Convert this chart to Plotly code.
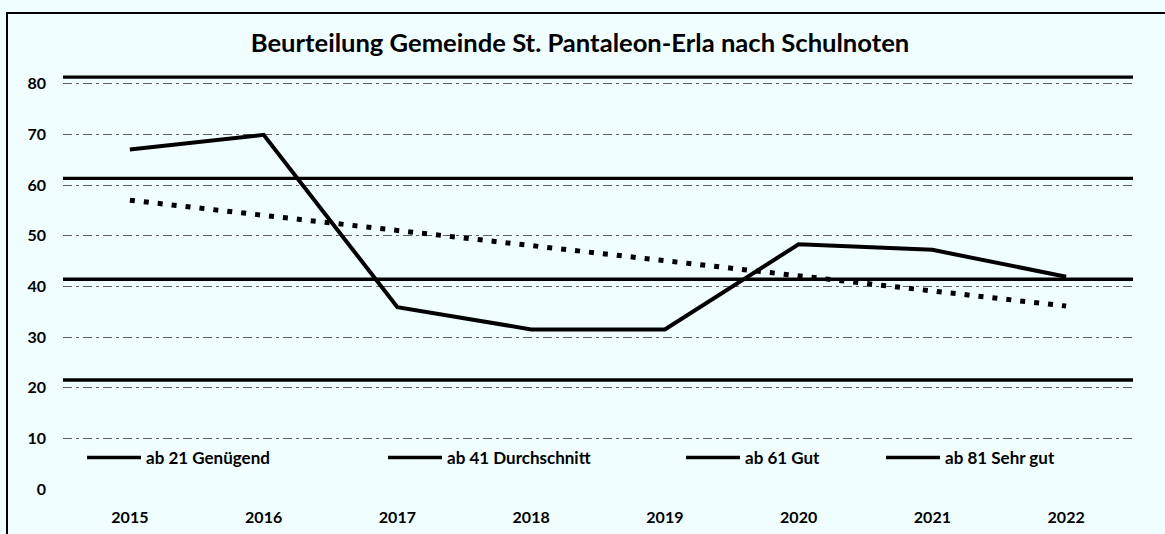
import plotly.graph_objects as go

# ---- data ----
years = [2015, 2016, 2017, 2018, 2019, 2020, 2021, 2022]
year_labels = ["2015", "2016", "2017", "2018", "2019", "2020", "2021", "2022"]
scores = [67.0, 69.9, 35.9, 31.5, 31.5, 48.3, 47.2, 41.9]
trend_years = [2015, 2022]
trend_values = [57.0, 36.1]
threshold_names = ["ab 21 Genügend", "ab 41 Durchschnitt", "ab 61 Gut", "ab 81 Sehr gut"]
threshold_values = [21.5, 41.4, 61.3, 81.3]
y_ticks = [0, 10, 20, 30, 40, 50, 60, 70, 80]

TITLE = "Beurteilung Gemeinde St. Pantaleon-Erla nach Schulnoten"

W, H = 1165, 534
ML, MR, MT, MB = 63, 32, 71, 45
PW, PH = W - ML - MR, H - MT - MB
BG = "#f0feff"
FONT = "Lato"

x_range = [years[0] - 0.5, years[-1] + 0.5]


def px_x(p):
    return (p - ML) / PW


def px_y(p):
    return (H - MB - p) / PH


fig = go.Figure()

legend_ids = ["legend", "legend2", "legend3", "legend4"]
for name, val, lid in zip(threshold_names, threshold_values, legend_ids):
    fig.add_trace(go.Scatter(
        x=x_range, y=[val, val], mode="lines", name=name,
        line=dict(color="#000000", width=3.4),
        legend=lid, hoverinfo="skip",
    ))

fig.add_trace(go.Scatter(
    x=trend_years, y=trend_values, mode="lines", showlegend=False,
    line=dict(color="#000000", width=5, dash="5px,9px"),
))
fig.add_trace(go.Scatter(
    x=years, y=scores, mode="lines", showlegend=False,
    line=dict(color="#000000", width=4),
))

legend_px = [87, 388, 686, 886]
legend_y = px_y(458)
leg_common = dict(
    orientation="h", xanchor="left", yanchor="middle", y=legend_y,
    bgcolor="rgba(0,0,0,0)", borderwidth=0, itemwidth=54,
    font=dict(family=FONT, size=17, color="#000000", weight="bold"),
)
legends = {}
for lid, p in zip(legend_ids, legend_px):
    legends[lid] = dict(x=px_x(p - 5), **leg_common)

fig.update_layout(
    width=W, height=H,
    margin=dict(l=ML, r=MR, t=MT, b=MB, autoexpand=False),
    paper_bgcolor=BG, plot_bgcolor=BG,
    title=dict(text=TITLE, x=580 / W, xref="container", xanchor="center",
               y=1 - 43 / H, yref="container", yanchor="middle",
               font=dict(family=FONT, size=25.6, color="#000000", weight="bold")),
    xaxis=dict(range=x_range, tickvals=years, ticktext=year_labels,
               showgrid=False, zeroline=False, showline=False, ticks="",
               ticklabelstandoff=17,
               tickfont=dict(family=FONT, size=16, color="#000000", weight="bold")),
    yaxis=dict(range=[0, 82.5], tickvals=y_ticks, showgrid=True,
               gridcolor="#606060", gridwidth=1, griddash="9px,4px,3px,4px",
               zeroline=False, showline=False, ticks="",
               ticklabelstandoff=16,
               tickfont=dict(family=FONT, size=16, color="#000000", weight="bold")),
    showlegend=True,
    **legends,
    shapes=[dict(type="rect", xref="paper", yref="paper",
                 x0=px_x(7), x1=px_x(1175), y0=px_y(545), y1=px_y(13),
                 line=dict(color="#000000", width=2), fillcolor="rgba(0,0,0,0)",
                 layer="above")],
)

fig.write_html("out.html", config={"displayModeBar": False},
               post_script="document.body.style.margin='0';document.body.style.overflow='hidden';")
